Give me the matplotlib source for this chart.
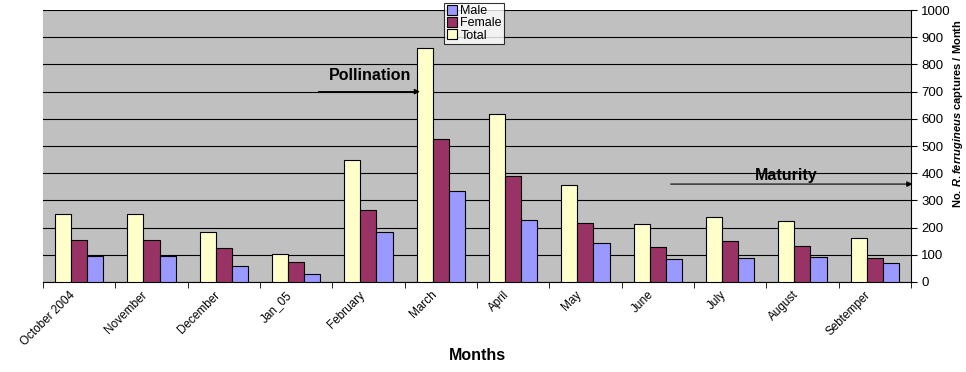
import matplotlib.pyplot as plt
import matplotlib.transforms as mtransforms
import numpy as np

plt.rcParams['font.family'] = ['Liberation Sans', 'DejaVu Sans']
plt.rcParams['mathtext.fontset'] = 'custom'
plt.rcParams['mathtext.it'] = 'Liberation Sans:italic:bold'
plt.rcParams['mathtext.rm'] = 'Liberation Sans:bold'

months = ['October 2004', 'November', 'December', 'Jan_05', 'February', 'March',
          'April', 'May', 'June', 'July', 'August', 'Sebtemper']
total = [250, 250, 183, 103, 450, 860, 617, 358, 213, 240, 225, 162]
female = [155, 155, 125, 75, 265, 527, 390, 218, 130, 150, 133, 90]
male = [95, 97, 60, 28, 185, 333, 227, 142, 85, 90, 92, 70]

fig = plt.figure(figsize=(9.66, 3.72), dpi=100)
ax = fig.add_axes([0.0445, 0.242, 0.8985, 0.731])
ax.set_facecolor('#C0C0C0')

x = np.arange(len(months))
w = 0.222
ax.bar(x - w, total, w, color='#FFFFCC', edgecolor='black', linewidth=0.8, label='Total', zorder=3)
ax.bar(x, female, w, color='#993366', edgecolor='black', linewidth=0.8, label='Female', zorder=3)
ax.bar(x + w, male, w, color='#9999FF', edgecolor='black', linewidth=0.8, label='Male', zorder=3)

ax.set_xlim(-0.5, len(months) - 0.5)
ax.set_ylim(0, 1000)
ax.yaxis.tick_right()
ax.yaxis.set_label_position('right')
ax.set_yticks(range(0, 1001, 100))
ax.tick_params(axis='y', labelsize=9.5, length=4, direction='out')
ax.grid(axis='y', color='black', linewidth=0.8, zorder=1)

ax.set_xticks(x)
ax.set_xticklabels(months, rotation=45, ha='right', rotation_mode='anchor', fontsize=8.5)
ax.tick_params(axis='x', length=0, pad=5)
shift = mtransforms.ScaledTranslation(-10 / 100, 0, fig.dpi_scale_trans)
for lab in ax.get_xticklabels():
    lab.set_transform(lab.get_transform() + shift)
ax.set_xticks(np.arange(-0.5, len(months), 1), minor=True)
ax.tick_params(axis='x', which='minor', length=4, direction='out')

for s in ['left', 'top']:
    ax.spines[s].set_visible(False)
ax.spines['right'].set_color('black')
ax.spines['bottom'].set_color('black')

ax.set_xlabel('Months', fontsize=11.5, fontweight='bold', labelpad=0)
ax.set_ylabel(r'No. $\it{R.ferrugineus}$ captures / Month', fontsize=8,
              fontweight='bold')
ax.yaxis.set_label_coords(1.046, 0.62)

handles, labels = ax.get_legend_handles_labels()
leg = ax.legend(handles[::-1], labels[::-1], loc='upper center', bbox_to_anchor=(0.497, 1.027),
                fontsize=9, frameon=True, fancybox=False, edgecolor='black',
                handlelength=0.8, handleheight=0.8, handletextpad=0.3,
                borderpad=0.2, labelspacing=0.0, borderaxespad=0)
leg.get_frame().set_linewidth(0.8)
leg.set_zorder(5)

# annotations
ax.annotate('', xy=(4.75, 700), xytext=(3.27, 700),
            arrowprops=dict(arrowstyle='-|>', color='black', lw=0.8, mutation_scale=8), zorder=4)
ax.text(4.02, 761, 'Pollination', fontsize=11.5, fontweight='bold', ha='center', va='center', zorder=4)
ax.annotate('', xy=(11.56, 360), xytext=(8.14, 360), annotation_clip=False,
            arrowprops=dict(arrowstyle='-|>', color='black', lw=0.8, mutation_scale=8), zorder=4)
ax.text(9.77, 390, 'Maturity', fontsize=11.5, fontweight='bold', ha='center', va='center', zorder=4)

fig.savefig('out.png', dpi=100)
